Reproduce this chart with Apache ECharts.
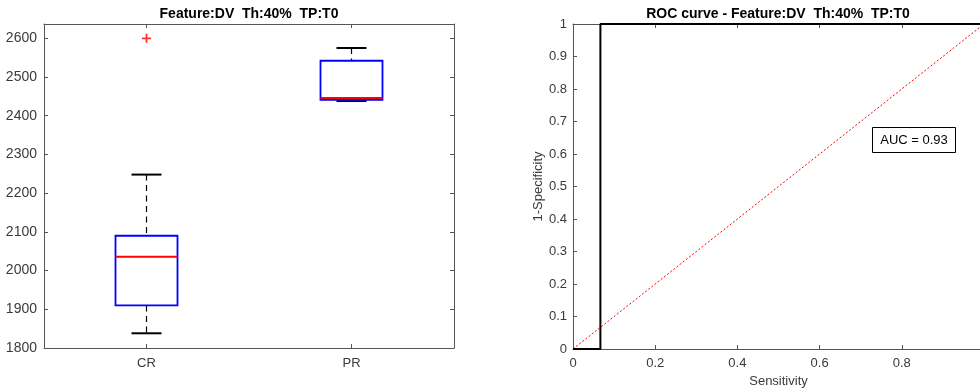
<!DOCTYPE html>
<html>
<head>
<meta charset="utf-8">
<script src="https://cdn.jsdelivr.net/npm/echarts@6/dist/echarts.min.js"></script>
<style>
  html, body { margin: 0; padding: 0; background: #ffffff; }
  #chart { width: 980px; height: 392px; }
</style>
</head>
<body>
<div id="chart"></div>
<script>
// Box plot groups and their five-number summaries
const groups = ['CR', 'PR'];
const lowerWhisker = [1838, 2438];
const quartile1 = [1910, 2441];
const medians = [2036, 2446];
const quartile3 = [2090, 2542];
const upperWhisker = [2248, 2575];
// Outliers as [group index, value]
const outliers = [[0, 2600]];

// ROC curve points (Sensitivity axis, 1-Specificity axis)
const rocX = [0, 1 / 15, 1 / 15, 1];
const rocY = [0, 0, 1, 1];
// Chance diagonal
const chanceX = [0, 1];
const chanceY = [0, 1];

const titleLeft = 'Feature:DV  Th:40%  TP:T0';
const titleRight = 'ROC curve - Feature:DV  Th:40%  TP:T0';

// Area under the ROC curve (trapezoidal rule)
let auc = 0;
for (let i = 1; i < rocX.length; i++) {
  auc += (rocX[i] - rocX[i - 1]) * (rocY[i] + rocY[i - 1]) / 2;
}

const FONT = '"Liberation Sans", Arial, sans-serif';
const AXIS_COLOR = '#555555';
const LABEL_COLOR = '#3a3a3a';

const boxData = groups.map((g, i) => [i, lowerWhisker[i], quartile1[i], medians[i], quartile3[i], upperWhisker[i]]);
const rocData = rocX.map((x, i) => [x, rocY[i]]);
const chanceData = chanceX.map((x, i) => [x, chanceY[i]]);

function renderBox(params, api) {
  const idx = api.value(0);
  const pLow = api.coord([idx, api.value(1)]);
  const pQ1 = api.coord([idx, api.value(2)]);
  const pMed = api.coord([idx, api.value(3)]);
  const pQ3 = api.coord([idx, api.value(4)]);
  const pHigh = api.coord([idx, api.value(5)]);
  const cx = pMed[0];
  const halfBox = 31;
  const halfCap = 15;
  const whiskerStyle = { stroke: '#000000', lineWidth: 1.2, lineDash: [6, 4.5] };
  const capStyle = { stroke: '#000000', lineWidth: 2 };
  return {
    type: 'group',
    children: [
      { type: 'line', shape: { x1: cx, y1: pHigh[1], x2: cx, y2: pQ3[1] }, style: whiskerStyle },
      { type: 'line', shape: { x1: cx, y1: pQ1[1], x2: cx, y2: pLow[1] }, style: whiskerStyle },
      { type: 'line', shape: { x1: cx - halfCap, y1: pHigh[1], x2: cx + halfCap, y2: pHigh[1] }, style: capStyle },
      { type: 'line', shape: { x1: cx - halfCap, y1: pLow[1], x2: cx + halfCap, y2: pLow[1] }, style: capStyle },
      {
        type: 'rect',
        shape: { x: cx - halfBox, y: pQ3[1], width: halfBox * 2, height: pQ1[1] - pQ3[1] },
        style: { fill: 'none', stroke: '#0000ff', lineWidth: 1.8 }
      },
      { type: 'line', shape: { x1: cx - halfBox, y1: pMed[1], x2: cx + halfBox, y2: pMed[1] }, style: { stroke: '#ff0000', lineWidth: 2 } }
    ]
  };
}

function axisBase(extra) {
  return Object.assign({
    axisLine: { show: true, onZero: false, lineStyle: { color: AXIS_COLOR, width: 1 } },
    axisTick: { show: true, inside: true, length: 4, lineStyle: { color: AXIS_COLOR } },
    axisLabel: { show: true, color: LABEL_COLOR, fontSize: 13, fontFamily: FONT },
    splitLine: { show: false }
  }, extra);
}

const chart = echarts.init(document.getElementById('chart'), null, { renderer: 'canvas' });

chart.setOption({
  animation: false,
  backgroundColor: '#ffffff',
  title: [
    {
      text: titleLeft, left: 249, top: 7, textAlign: 'center', padding: 0,
      textStyle: { fontFamily: FONT, fontSize: 14, fontWeight: 'bold', color: '#000000' }
    },
    {
      text: titleRight, left: 778, top: 7, textAlign: 'center', padding: 0,
      textStyle: { fontFamily: FONT, fontSize: 14, fontWeight: 'bold', color: '#000000' }
    }
  ],
  grid: [
    { left: 44, top: 24, width: 410, height: 324, containLabel: false, outerBoundsMode: 'none' },
    { left: 573, top: 24, width: 411, height: 325, containLabel: false, outerBoundsMode: 'none' }
  ],
  xAxis: [
    axisBase({
      type: 'category', gridIndex: 0, data: groups, position: 'bottom', boundaryGap: true,
      axisTick: { show: true, inside: true, length: 4, alignWithLabel: true, lineStyle: { color: AXIS_COLOR } },
      axisLabel: { show: true, color: LABEL_COLOR, fontSize: 13, fontFamily: FONT, margin: 9 }
    }),
    axisBase({
      type: 'category', gridIndex: 0, data: groups, position: 'top', boundaryGap: true,
      axisTick: { show: true, inside: true, length: 4, alignWithLabel: true, lineStyle: { color: AXIS_COLOR } },
      axisLabel: { show: false }
    }),
    axisBase({
      type: 'value', gridIndex: 1, min: 0, max: 1, interval: 0.2, position: 'bottom',
      name: 'Sensitivity', nameLocation: 'middle', nameGap: 24,
      nameTextStyle: { fontFamily: FONT, fontSize: 13, color: LABEL_COLOR },
      axisLabel: { show: true, color: LABEL_COLOR, fontSize: 13, fontFamily: FONT, margin: 8 }
    }),
    axisBase({
      type: 'value', gridIndex: 1, min: 0, max: 1, interval: 0.2, position: 'top',
      axisLabel: { show: false }
    })
  ],
  yAxis: [
    axisBase({
      type: 'value', gridIndex: 0, min: 1800, max: 2637, interval: 100, position: 'left',
      axisLabel: {
        show: true, color: LABEL_COLOR, fontSize: 14, fontFamily: FONT, margin: 7, showMaxLabel: false,
        formatter: (v) => String(v)
      }
    }),
    axisBase({
      type: 'value', gridIndex: 0, min: 1800, max: 2637, interval: 100, position: 'right',
      axisLabel: { show: false }
    }),
    axisBase({
      type: 'value', gridIndex: 1, min: 0, max: 1, interval: 0.1, position: 'left',
      name: '1-Specificity', nameLocation: 'middle', nameGap: 26,
      nameTextStyle: { fontFamily: FONT, fontSize: 13, color: LABEL_COLOR },
      axisLabel: { show: true, color: LABEL_COLOR, fontSize: 13, fontFamily: FONT, margin: 6 }
    }),
    axisBase({
      type: 'value', gridIndex: 1, min: 0, max: 1, interval: 0.1, position: 'right',
      axisLabel: { show: false }
    })
  ],
  series: [
    {
      type: 'custom', name: 'box', xAxisIndex: 0, yAxisIndex: 0,
      renderItem: renderBox, data: boxData, encode: { x: 0, y: [1, 2, 3, 4, 5] }, clip: false, z: 5
    },
    {
      type: 'scatter', name: 'outliers', xAxisIndex: 0, yAxisIndex: 0, data: outliers,
      symbol: 'path://M4,0H6V4H10V6H6V10H4V6H0V4H4Z', symbolSize: 9,
      itemStyle: { color: '#ff0000' }, z: 6
    },
    {
      type: 'line', name: 'chance', xAxisIndex: 2, yAxisIndex: 2, data: chanceData,
      showSymbol: false, symbol: 'none', clip: false,
      lineStyle: { color: '#ff0000', width: 1, type: [2, 2] }, z: 4
    },
    {
      type: 'line', name: 'roc', xAxisIndex: 2, yAxisIndex: 2, data: rocData,
      showSymbol: false, symbol: 'none', clip: false,
      lineStyle: { color: '#000000', width: 2 }, z: 5
    }
  ],
  graphic: [
    {
      type: 'group', left: 872, top: 127,
      children: [
        { type: 'rect', shape: { x: 0, y: 0, width: 83, height: 25 }, style: { fill: '#ffffff', stroke: '#000000', lineWidth: 1 } },
        {
          type: 'text', x: 41.5, y: 12.5,
          style: { text: 'AUC = ' + auc.toFixed(2), fill: '#000000', font: '13px ' + FONT, textAlign: 'center', textVerticalAlign: 'middle' }
        }
      ]
    }
  ]
});
</script>
</body>
</html>
